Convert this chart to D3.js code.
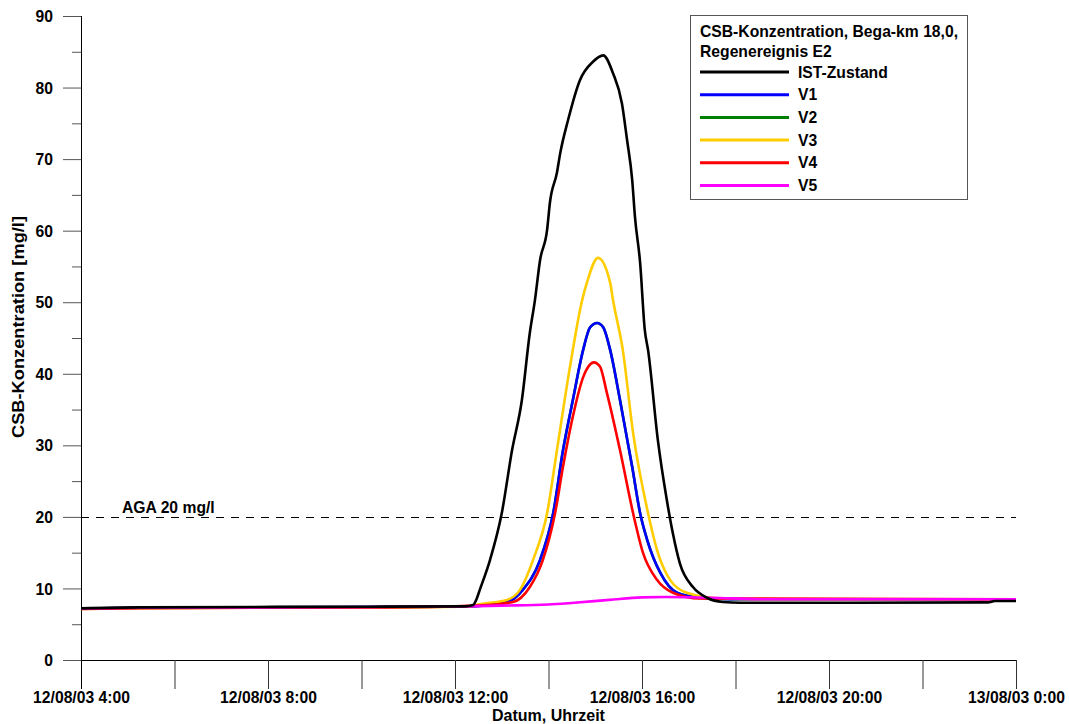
<!DOCTYPE html>
<html>
<head>
<meta charset="utf-8">
<script src="https://cdn.jsdelivr.net/npm/d3@7"></script>
<style>
  html, body { margin: 0; padding: 0; background: #fff; }
  svg { display: block; font-family: Arial, "Liberation Sans", sans-serif; font-weight: bold; }
</style>
</head>
<body>
<svg id="chart" width="1069" height="724"></svg>
<script>
// ---- data (time in hours since 12/08/03 0:00, value in mg/l) ----
const seriesNames = ["IST-Zustand", "V1", "V2", "V3", "V4", "V5"];
const seriesColors = ["#000000", "#0000ff", "#008000", "#ffcc00", "#ff0000", "#ff00ff"];

const istZustand = [[4,7.22],[5.26,7.36],[10.18,7.45],[12.21,7.5],[12.39,7.7],[12.46,8.5],[12.53,9.8],[12.75,14],[13.0,20.5],[13.22,29.3],[13.43,36.3],[13.6,45.7],[13.71,50.3],[13.82,55.9],[13.97,60.1],[14.03,63.9],[14.18,68.1],[14.25,70.8],[14.42,75.5],[14.67,81],[14.95,83.6],[15.17,84.5],[15.38,82],[15.57,77.8],[15.68,72.7],[15.79,67.1],[15.85,61.9],[15.96,55.5],[16.06,46.1],[16.13,43.3],[16.34,30.7],[16.53,22.4],[16.66,17.7],[16.81,13.5],[17.09,10.2],[17.39,8.7],[17.73,8.1],[18.1,8.0],[23.4,8.05],[23.55,8.25],[24,8.25]];
const v1 = [[4,7.2],[5.26,7.3],[10.18,7.4],[12.3,7.5],[13.07,8.0],[13.45,9.8],[13.82,14],[14.1,20.5],[14.31,29.3],[14.52,36.3],[14.74,43.3],[14.89,46.5],[15.04,47.1],[15.17,46.5],[15.32,43.3],[15.53,36.3],[15.79,27],[15.96,20.5],[16.11,16.8],[16.39,12.2],[16.75,9.4],[17.24,8.7],[17.88,8.5],[24,8.5]];
const v2 = [[4,7.2],[5.26,7.3],[10.18,7.4],[12.3,7.5],[13.07,8.0],[13.45,9.8],[13.82,14],[14.1,20.5],[14.31,29.3],[14.52,36.3],[14.74,43.3],[14.89,46.5],[15.04,47.1],[15.17,46.5],[15.32,43.3],[15.53,36.3],[15.79,27],[15.96,20.5],[16.11,16.8],[16.39,12.2],[16.75,9.4],[17.24,8.7],[17.88,8.5],[24,8.5]];
const v3 = [[4,7.15],[5.26,7.25],[10.18,7.35],[12.3,7.5],[12.53,7.8],[13.11,8.4],[13.39,9.8],[13.67,14],[13.97,20.5],[14.18,29.3],[14.46,41],[14.72,50.3],[14.82,52.7],[15.06,56.2],[15.32,52.7],[15.38,50.3],[15.59,43.3],[15.81,31.7],[16.13,20.5],[16.32,15.4],[16.6,11.2],[16.96,9.4],[17.67,8.6],[18.5,8.5],[24,8.5]];
const v4 = [[4,7.15],[5.26,7.25],[10.18,7.35],[12.5,7.6],[13.24,8.1],[13.6,10.2],[13.88,14],[14.14,20.5],[14.31,27],[14.52,34],[14.74,39.5],[14.97,41.6],[15.1,41],[15.25,37.3],[15.53,29.3],[15.81,20.5],[16.02,15],[16.32,11.2],[16.66,9.4],[17.24,8.6],[24,8.5]];
const v5 = [[4,7.2],[5.26,7.3],[10.18,7.4],[12.2,7.5],[13.0,7.6],[14.0,7.75],[14.55,8.0],[15.3,8.4],[16.0,8.75],[16.5,8.8],[17.5,8.7],[18.5,8.5],[24,8.5]];

const seriesData = [istZustand, v1, v2, v3, v4, v5];
const drawOrder = [2, 1, 3, 4, 5, 0];

const yTicks = [0,10,20,30,40,50,60,70,80,90];
const xTickHours = [4, 8, 12, 16, 20, 24];
const agaValue = 20;
const agaLabel = "AGA 20 mg/l";
const legendTitle = ["CSB-Konzentration, Bega-km 18,0,", "Regenereignis E2"];
const yLabel = "CSB-Konzentration [mg/l]";
const xLabel = "Datum, Uhrzeit";

// ---- layout ----
const FS = 15.7;
const svg = d3.select("#chart");
const mLeft = 81, mRight = 1016, mTop = 16, mBottom = 660;
const base = new Date(2003, 7, 12, 0, 0);
const toDate = h => new Date(base.getTime() + h * 3600000);

const x = d3.scaleTime().domain([toDate(4), toDate(24)]).range([mLeft, mRight]);
const y = d3.scaleLinear().domain([0, 90]).range([mBottom, mTop]);

const fmt = d => {
  const dd = d3.timeFormat("%d/%m/%y")(d);
  return dd + " " + d.getHours() + ":" + d3.timeFormat("%M")(d);
};

// x axis
const xAxis = d3.axisBottom(x)
  .tickValues(d3.range(4, 24.01, 2).map(toDate))
  .tickSize(29).tickFormat(d => xTickHours.includes(Math.round((d - base) / 3600000)) ? fmt(d) : "");
const gx = svg.append("g").attr("transform", `translate(0,${mBottom})`).call(xAxis);
gx.attr("font-family", null);
gx.select(".domain").attr("stroke", "#000").attr("d", `M${mLeft},0.5H${mRight}`);
gx.selectAll(".tick line").attr("stroke", "#333");
gx.selectAll(".tick text").attr("y", 43).attr("dy", 0).attr("font-size", FS)
  .attr("font-weight", "bold").attr("fill", "#000");

// y axis
const yAxis = d3.axisLeft(y).tickValues(d3.range(0, 90.01, 5))
  .tickSize(18).tickFormat(d => yTicks.includes(d) ? d : "");
const gy = svg.append("g").attr("transform", `translate(${mLeft},0)`).call(yAxis);
gy.attr("font-family", null);
gy.select(".domain").attr("stroke", "#000").attr("d", `M0.5,${mTop}V${mBottom + 29}`);
gy.selectAll(".tick line").attr("stroke", "#555")
  .attr("x2", d => yTicks.includes(d) ? -18 : -9);
gy.selectAll(".tick text").attr("x", -28).attr("dy", "0.36em").attr("font-size", FS)
  .attr("font-weight", "bold").attr("fill", "#000");

// axis titles
svg.append("text").attr("transform", `translate(24,327) rotate(-90)`)
  .attr("text-anchor", "middle").attr("font-size", 16.5)
  .attr("textLength", 222).attr("lengthAdjust", "spacingAndGlyphs").text(yLabel);
svg.append("text").attr("x", (mLeft + mRight) / 2).attr("y", 721)
  .attr("text-anchor", "middle").attr("font-size", 16).text(xLabel);

// AGA line
const agaY = Math.round(y(agaValue)) + 0.5;
svg.append("line").attr("x1", mLeft).attr("x2", mRight)
  .attr("y1", agaY).attr("y2", agaY)
  .attr("stroke", "#000").attr("stroke-width", 1).attr("stroke-dasharray", "8,7");
svg.append("text").attr("x", 122).attr("y", agaY - 5)
  .attr("font-size", FS).text(agaLabel);

// series lines
const line = d3.line().x(d => x(toDate(d[0]))).y(d => y(d[1])).curve(d3.curveMonotoneX);
drawOrder.forEach(i => {
  svg.append("path").datum(seriesData[i])
    .attr("fill", "none").attr("stroke", seriesColors[i])
    .attr("stroke-width", 2.6).attr("stroke-linejoin", "round")
    .attr("d", line);
});

// legend
const lg = svg.append("g");
lg.append("rect").attr("x", 690.5).attr("y", 15.5).attr("width", 277).attr("height", 184)
  .attr("fill", "#fff").attr("stroke", "#555").attr("stroke-width", 1);
legendTitle.forEach((t, i) => {
  lg.append("text").attr("x", 700).attr("y", 37 + i * 20).attr("font-size", FS).text(t);
});
seriesNames.forEach((n, i) => {
  const yy = 72 + i * 22.7;
  lg.append("line").attr("x1", 700).attr("x2", 789).attr("y1", yy).attr("y2", yy)
    .attr("stroke", seriesColors[i]).attr("stroke-width", 3);
  lg.append("text").attr("x", 798).attr("y", yy + 5.5).attr("font-size", FS).text(n);
});
</script>
</body>
</html>
